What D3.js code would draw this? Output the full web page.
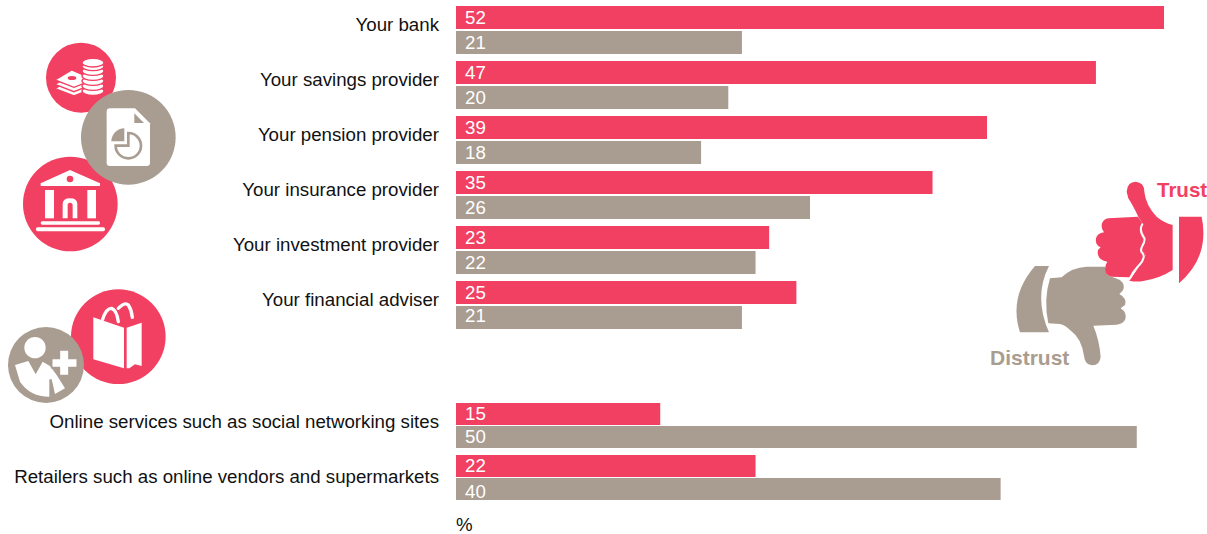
<!DOCTYPE html>
<html>
<head>
<meta charset="utf-8">
<style>
  html, body { margin: 0; padding: 0; background: #fff; }
  svg { display: block; }
  text { font-family: "Liberation Sans", Arial, sans-serif; }
</style>
<script src="https://cdn.jsdelivr.net/npm/d3@7/dist/d3.min.js"></script>
</head>
<body>
<svg id="chart" width="1207" height="534"></svg>
<script>
// Share of respondents who trust / distrust each kind of organisation (%)
const financeCategories = ["Your bank", "Your savings provider", "Your pension provider",
  "Your insurance provider", "Your investment provider", "Your financial adviser"];
const financeTrust = [52, 47, 39, 35, 23, 25];
const financeDistrust = [21, 20, 18, 26, 22, 21];

const otherCategories = ["Online services such as social networking sites",
  "Retailers such as online vendors and supermarkets"];
const otherTrust = [15, 22];
const otherDistrust = [50, 40];

const seriesNames = ["Trust", "Distrust"];
const unitLabel = "%";

const PINK = "#f24062";
const TAUPE = "#a99c90";
const INK = "#111";

const svg = d3.select("#chart");
const x = d3.scaleLinear().domain([0, 52]).range([456, 1164]);
const color = d3.scaleOrdinal().domain(seriesNames).range([PINK, TAUPE]);

// A couple of value labels sit slightly off-centre within their bars
const valueLabelShift = new Map([
  ["Your financial adviser|Distrust", -1.5],
  ["Retailers such as online vendors and supermarkets|Distrust", 2.5]
]);

function drawPanel(categories, trust, distrust, yRange, groupPad, barPad, labelRange) {
  const y = d3.scaleBand().domain(categories).range(yRange).paddingInner(groupPad).paddingOuter(0);
  const inner = d3.scaleBand().domain(seriesNames).range([0, y.bandwidth()]).paddingInner(barPad);
  const labelY = d3.scalePoint().domain(categories).range(labelRange);
  const rows = categories.map((c, i) => ({ c, values: [
    { c, s: "Trust", v: trust[i] }, { c, s: "Distrust", v: distrust[i] } ] }));

  const g = svg.append("g");
  g.selectAll("text.category").data(categories).join("text")
    .attr("class", "category")
    .attr("x", 439)
    .attr("y", d => labelY(d))
    .attr("text-anchor", "end")
    .attr("font-size", 18.7)
    .attr("fill", INK)
    .text(d => d);

  const row = g.selectAll("g").data(rows).join("g")
    .attr("transform", d => `translate(0,${y(d.c)})`);
  const bar = row.selectAll("g").data(d => d.values).join("g")
    .attr("transform", d => `translate(0,${inner(d.s)})`);
  bar.append("rect")
    .attr("x", x(0))
    .attr("width", d => x(d.v) - x(0))
    .attr("height", inner.bandwidth())
    .attr("fill", d => color(d.s));
  bar.append("text")
    .attr("x", x(0) + 9)
    .attr("y", d => inner.bandwidth() / 2 - 0.5 + (valueLabelShift.get(`${d.c}|${d.s}`) || 0))
    .attr("dy", "0.36em")
    .attr("font-size", 18.7)
    .attr("fill", "#fff")
    .text(d => d.v);
}

drawPanel(financeCategories, financeTrust, financeDistrust, [6, 329], 7 / 55, 2 / 25, [30.5, 306]);
drawPanel(otherCategories, otherTrust, otherDistrust, [403, 500], 7 / 52, 1 / 23, [427.5, 482.5]);

svg.append("text").attr("x", 456).attr("y", 531)
  .attr("font-size", 18.7).attr("fill", INK).text(unitLabel);

// Pictograms, each group laid out on a 3x grid
const iconsTop = svg.append("g").attr("transform", "translate(0,30) scale(0.3333)");
const iconsBottom = svg.append("g").attr("transform", "translate(0,280) scale(0.3333)");
const thumbs = svg.append("g").attr("transform", "translate(980,170) scale(0.3333)");

const disc = (g, cx, cy, r, fill) =>
  g.append("circle").attr("cx", cx).attr("cy", cy).attr("r", r).attr("fill", fill);
const blob = (g, d, fill) => g.append("path").attr("d", d).attr("fill", fill);
const line = (g, d, stroke, w) => g.append("path").attr("d", d)
  .attr("fill", "none").attr("stroke", stroke).attr("stroke-width", w).attr("stroke-linecap", "round");

// Banknotes and coins
disc(iconsTop, 243, 143, 105, PINK);
[176, 163, 150].forEach(b => {
  iconsTop.append("path")
    .attr("d", `M165 ${b} L215 ${b - 30} L262 ${b - 10} L262 ${b + 6} L222 ${b + 22} Z`)
    .attr("fill", "#fff").attr("stroke", PINK).attr("stroke-width", 4);
});
iconsTop.append("ellipse").attr("cx", 216).attr("cy", 144).attr("rx", 13).attr("ry", 6).attr("fill", PINK);
[183, 168, 153, 138, 123, 109, 98].forEach(cy => {
  iconsTop.append("ellipse").attr("cx", 279).attr("cy", cy).attr("rx", 33).attr("ry", 13)
    .attr("fill", "#fff").attr("stroke", PINK).attr("stroke-width", 4);
});

// Bank building
disc(iconsTop, 211, 522, 142, PINK);
blob(iconsTop, "M122 468 L122 460 L210 420 L300 460 L300 468 Z", "#fff");
disc(iconsTop, 210, 447, 10, PINK);
blob(iconsTop, "M135 480 H162 V565 H135 Z", "#fff");
blob(iconsTop, "M262 480 H288 V565 H262 Z", "#fff");
blob(iconsTop, "M188 565 V522 Q188 505 210 505 Q232 505 232 522 V565 H218 V526 Q218 518 210 518 Q203 518 203 526 V565 Z", "#fff");
blob(iconsTop, "M127 574 H296 Q300 574 300 579 Q300 584 296 584 H127 Q122 584 122 579 Q122 574 127 574 Z", "#fff");
blob(iconsTop, "M113 592 H310 Q315 592 315 598 Q315 604 310 604 H113 Q108 604 108 598 Q108 592 113 592 Z", "#fff");

// Report sheet with a pie
disc(iconsTop, 385, 322, 142, TAUPE);
blob(iconsTop, "M320 245 Q320 235 330 235 L405 235 L450 280 L450 398 Q450 408 440 408 L330 408 Q320 408 320 398 Z", "#fff");
blob(iconsTop, "M403 250 L432 279 L403 279 Z", TAUPE);
blob(iconsTop, "M373 295 L373 334 L334 334 A39 39 0 0 1 373 295 Z", TAUPE);
line(iconsTop, "M385 309 A38 38 0 1 1 347 347 L385 347 Z", TAUPE, 8);

// Shopping bag
disc(iconsBottom, 355, 170, 142, PINK);
blob(iconsBottom, "M280 112 L372 143 L372 265 L280 238 Z", "#fff");
blob(iconsBottom, "M380 143 L425 128 L425 258 L405 253 L388 265 L380 265 Z", "#fff");
line(iconsBottom, "M308 118 Q318 85 335 85 Q350 90 355 125", "#fff", 10);
line(iconsBottom, "M355 85 Q375 65 385 75 Q395 90 397 112", "#fff", 10);

// Adviser with a plus sign
disc(iconsBottom, 138, 255, 114, TAUPE);
disc(iconsBottom, 105, 203, 32, "#fff");
blob(iconsBottom, "M45 255 L85 243 L107 283 L128 245 L150 258 L170 285 L195 325 L165 342 L155 298 L148 298 L148 350 Q90 350 60 305 Z", "#fff");
iconsBottom.append("path")
  .attr("d", "M178 210 H207 V235 H232 V263 H207 V287 H178 V263 H155 V235 H178 Z")
  .attr("fill", "#fff").attr("stroke", TAUPE).attr("stroke-width", 5);

// Thumb down
blob(thumbs, "M210 325 L245 322 Q275 292 320 290 L375 290 L375 300 Q378 318 395 320 L420 330 Q438 345 428 362 L418 372 Q442 385 435 405 L422 415 Q442 428 436 448 Q430 462 410 464 L340 467 Q358 510 362 560 Q360 585 337 586 Q315 585 312 558 Q305 505 270 480 Q255 465 240 462 L205 460 Q190 390 210 325 Z", TAUPE);
blob(thumbs, "M165 288 L207 288 Q160 380 207 487 L120 487 Q85 380 165 288 Z", TAUPE);

// Thumb up, with the crease between fist and thumb left white
blob(thumbs, "M440 65 Q442 35 467 35 Q493 37 493 65 Q497 105 530 140 Q552 158 578 165 L578 300 Q540 325 490 333 Q470 337 448 332 L474 295 L497 255 L482 235 L497 205 L481 175 L487 160 L475 140 Q458 105 445 85 Z", PINK);
blob(thumbs, "M385 145 L474 140 L487 160 L481 175 L497 205 L482 235 L497 255 L474 295 L448 322 L395 320 Q375 318 375 298 Q375 285 382 275 Q355 272 353 248 Q353 238 362 232 Q345 225 348 205 Q352 190 372 187 Q362 175 366 160 Q372 147 385 145 Z", PINK);
line(thumbs, "M487 163 C478 178 482 190 493 205 C498 220 478 232 484 245 C496 255 492 270 478 285 C470 295 458 303 450 325", "#fff", 6);
blob(thumbs, "M597 140 L665 140 Q690 260 597 340 Z", PINK);

svg.append("text").attr("x", 1157).attr("y", 197).attr("font-size", 20.5).attr("font-weight", 700)
  .attr("fill", PINK).text(seriesNames[0]);
svg.append("text").attr("x", 990).attr("y", 365).attr("font-size", 21).attr("font-weight", 700)
  .attr("fill", TAUPE).text(seriesNames[1]);
</script>
</body>
</html>
